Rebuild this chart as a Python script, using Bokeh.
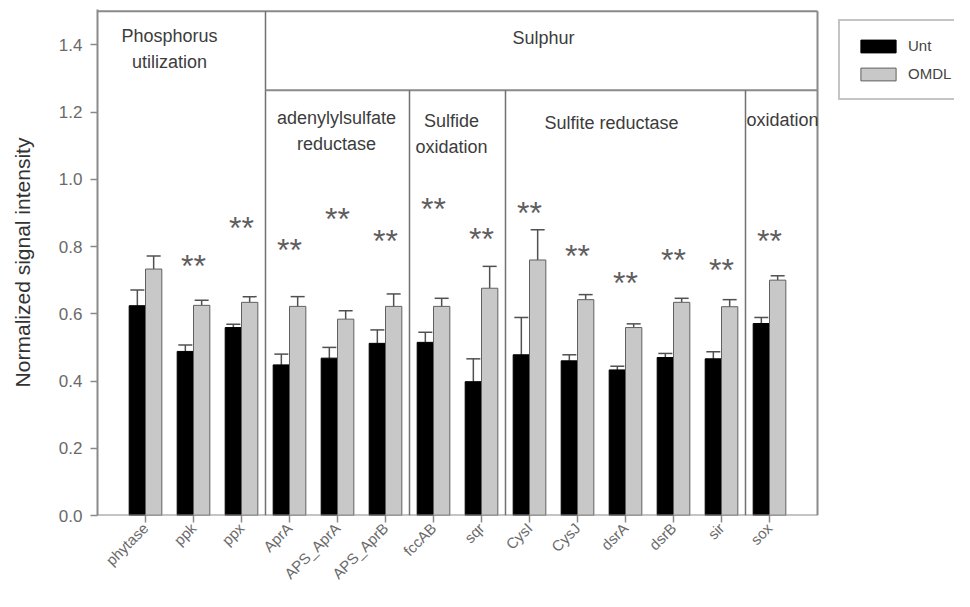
import numpy as np
from bokeh.plotting import figure
from bokeh.models import (Range1d, FixedTicker, ColumnDataSource, Whisker, TeeHead,
                          Legend, LegendItem, PrintfTickFormatter)
from bokeh.core.properties import value
from bokeh.embed import file_html
from bokeh.resources import INLINE

# ---------------- data ----------------
genes = ["phytase", "ppk", "ppx", "AprA", "APS_AprA", "APS_AprB", "fccAB", "sqr",
         "CysI", "CysJ", "dsrA", "dsrB", "sir", "sox"]
unt = [0.624, 0.488, 0.559, 0.448, 0.468, 0.512, 0.515, 0.398, 0.478, 0.460, 0.433, 0.470, 0.466, 0.571]
unt_err = [0.047, 0.019, 0.010, 0.032, 0.032, 0.040, 0.030, 0.068, 0.111, 0.018, 0.011, 0.012, 0.021, 0.018]
omdl = [0.733, 0.625, 0.634, 0.622, 0.584, 0.622, 0.622, 0.676, 0.760, 0.642, 0.559, 0.634, 0.621, 0.700]
omdl_err = [0.039, 0.015, 0.017, 0.029, 0.025, 0.037, 0.024, 0.065, 0.090, 0.015, 0.011, 0.012, 0.021, 0.013]

star_genes = ["ppk", "ppx", "AprA", "APS_AprA", "APS_AprB", "fccAB", "sqr",
              "CysI", "CysJ", "dsrA", "dsrB", "sir", "sox"]
star_y = [0.75, 0.865, 0.80, 0.89, 0.825, 0.92, 0.83, 0.91, 0.78, 0.70, 0.77, 0.74, 0.825]

y_ticks = [0.0, 0.2, 0.4, 0.6, 0.8, 1.0, 1.2, 1.4]

# top-level groups (label, number of genes) and sub-groups of Sulphur
top_groups = ["Phosphorus\nutilization", "Sulphur"]
top_sizes = [3, 11]
sub_groups = ["adenylylsulfate\nreductase", "Sulfide\noxidation", "Sulfite reductase", "oxidation"]
sub_sizes = [3, 2, 5, 1]

# ---------------- layout ----------------
W, H = 954, 591
BL, BT, BB, BR = 97, 9, 76, 0
n = len(genes)
xs = np.arange(1, n + 1)
off = 0.17
bw = 0.34
y_max = 1.5
x_max = n + 1
plot_px = 720                      # pixel width of the boxed plot area
x_end = x_max * (W - BL - BR) / plot_px
sub_line = 1.265

p = figure(width=W, height=H, output_backend="svg", toolbar_location=None,
           x_range=Range1d(0, x_end), y_range=Range1d(0, y_max + 0.005),
           min_border_left=BL, min_border_top=BT, min_border_bottom=BB, min_border_right=BR)
p.background_fill_color = "white"
p.border_fill_color = "white"
p.xgrid.grid_line_color = None
p.ygrid.grid_line_color = None
p.outline_line_color = None

FONT = "Liberation Sans"
FRAME = "#8a8a8a"

src = ColumnDataSource(dict(xu=xs - off, xo=xs + off, unt=unt, omdl=omdl,
                            unt_hi=np.array(unt) + np.array(unt_err),
                            omdl_hi=np.array(omdl) + np.array(omdl_err)))

r_unt = p.vbar(x="xu", top="unt", width=bw, source=src, fill_color="black",
               line_color="black", line_width=1)
r_omdl = p.vbar(x="xo", top="omdl", width=bw, source=src, fill_color="#c8c8c8",
                line_color="#606060", line_width=1)

for base, lo, hi in (("xu", "unt", "unt_hi"), ("xo", "omdl", "omdl_hi")):
    w = Whisker(source=src, base=base, lower=lo, upper=hi, dimension="height",
                line_color="#505050", line_width=1.5, lower_head=None,
                upper_head=TeeHead(size=14, line_color="#505050", line_width=1.5))
    p.add_layout(w)

# box around the plot area (bottom, top, right)
p.segment(x0=[0, 0, x_max], y0=[0, y_max, 0], x1=[x_max, x_max, x_max], y1=[0, y_max, y_max],
          line_color=FRAME, line_width=2)

# group separators
b_top = np.cumsum(top_sizes)[:-1] + 0.5
p.segment(x0=list(b_top), y0=[0] * len(b_top), x1=list(b_top), y1=[y_max] * len(b_top),
          line_color="#707070", line_width=1.5)
sulphur_start = top_sizes[0] + 0.5
p.segment(x0=[sulphur_start], y0=[sub_line], x1=[x_max], y1=[sub_line],
          line_color=FRAME, line_width=2)
b_sub = sulphur_start + np.cumsum(sub_sizes)[:-1]
p.segment(x0=list(b_sub), y0=[0] * len(b_sub), x1=list(b_sub), y1=[sub_line] * len(b_sub),
          line_color="#707070", line_width=1.5)

# group labels
lab_x = [1.5, 9.29, 4.98, 7.375, 10.71, 14.27]
lab_y = [1.387, 1.42, 1.144, 1.134, 1.167, 1.176]
p.text(x=lab_x, y=lab_y, text=top_groups + sub_groups, text_font=value(FONT),
       text_font_size="18px", text_color="#3c3c3c", text_align="center",
       text_baseline="middle", text_line_height=1.3)

# significance stars
sx = [genes.index(g) + 1 for g in star_genes]
p.text(x=sx, y=star_y, text=["**"] * len(sx), text_font=value(FONT),
       text_font_size="32px", text_color="#5e5e5e", text_align="center",
       text_baseline="alphabetic", y_offset=3)

# axes
p.yaxis.ticker = FixedTicker(ticks=y_ticks)
p.yaxis.formatter = PrintfTickFormatter(format="%.1f")
p.xaxis.ticker = FixedTicker(ticks=list(xs))
p.xaxis.major_label_overrides = {int(i): g for i, g in zip(xs, genes)}
p.xaxis.major_label_orientation = np.pi / 4
p.yaxis.axis_label = "Normalized signal intensity"
for ax in (p.xaxis[0], p.yaxis[0]):
    ax.axis_line_color = FRAME
    ax.axis_line_width = 2
    ax.major_tick_line_color = FRAME
    ax.major_tick_line_width = 1.5
    ax.major_tick_in = 0
    ax.major_tick_out = 7
    ax.minor_tick_line_color = None
    ax.major_label_text_font = FONT
    ax.major_label_text_color = "#6a6a6a"
p.xaxis.axis_line_color = None
p.xaxis.major_label_text_font_size = "15px"
p.xaxis.major_label_standoff = 3
p.yaxis.major_label_text_font_size = "17px"
p.yaxis.major_label_standoff = 8
p.yaxis.axis_label_text_font = FONT
p.yaxis.axis_label_text_font_size = "21px"
p.yaxis.axis_label_text_font_style = "normal"
p.yaxis.axis_label_text_color = "#333333"
p.yaxis.axis_label_standoff = 22

legend = Legend(items=[LegendItem(label="Unt", renderers=[r_unt]),
                       LegendItem(label="OMDL", renderers=[r_omdl])],
                location=(838 - BL, H - BB - 100), margin=0, padding=16, spacing=11,
                glyph_width=44, glyph_height=16, label_standoff=8,
                label_text_font=FONT, label_text_font_size="15px",
                label_text_color="#444444", border_line_color=FRAME,
                border_line_width=2, background_fill_alpha=1)
p.add_layout(legend, "center")

open("out.html", "w").write(file_html(p, INLINE))
